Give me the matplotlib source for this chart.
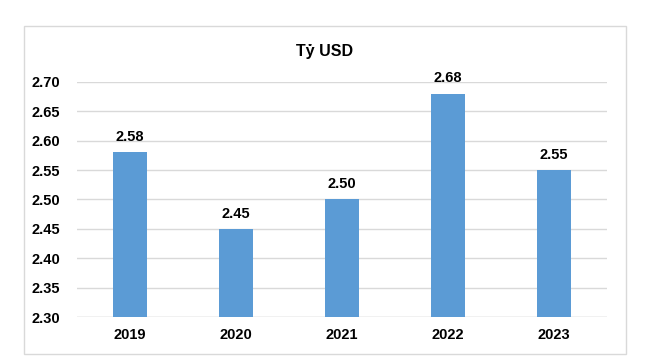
import matplotlib.pyplot as plt
from matplotlib.patches import Rectangle

years = ['2019', '2020', '2021', '2022', '2023']
values = [2.58, 2.45, 2.50, 2.68, 2.55]
labels = ['2.58', '2.45', '2.50', '2.68', '2.55']
yticks = [2.30, 2.35, 2.40, 2.45, 2.50, 2.55, 2.60, 2.65, 2.70]

plt.rcParams['font.family'] = ['Liberation Sans', 'DejaVu Sans']

fig = plt.figure(figsize=(6.5, 3.64), dpi=100)
ax = fig.add_axes([0.118, 0.129, 0.816, 0.646])

x = range(len(years))
ax.bar(x, values, width=0.32, color='#5B9BD5', zorder=3)
for i, v in enumerate(values):
    ax.text(i, v + 0.014, labels[i], ha='center', va='bottom',
            fontsize=10.5, fontweight='bold')

ax.set_ylim(2.30, 2.70)
ax.set_xlim(-0.5, 4.5)
ax.set_yticks(yticks)
ax.set_yticklabels([f'{t:.2f}' for t in yticks], fontsize=10.5, fontweight='bold')
ax.set_xticks(list(x))
ax.set_xticklabels(years, fontsize=10.5, fontweight='bold')
ax.yaxis.grid(True, color='#D9D9D9', linewidth=1, zorder=0)
ax.tick_params(length=0, pad=12)
ax.tick_params(axis='x', pad=8)
for s in ax.spines.values():
    s.set_visible(False)
ax.axhline(2.30, color='#D9D9D9', linewidth=1, zorder=2)

fig.text(0.5, 0.858, 'Tỷ USD', ha='center', va='center', fontsize=11.5, fontweight='bold')

fig.patches.append(Rectangle((0.037, 0.027), 0.926, 0.901, transform=fig.transFigure,
                             fill=False, edgecolor='#D9D9D9', linewidth=1))

fig.savefig('out.png', dpi=100)
